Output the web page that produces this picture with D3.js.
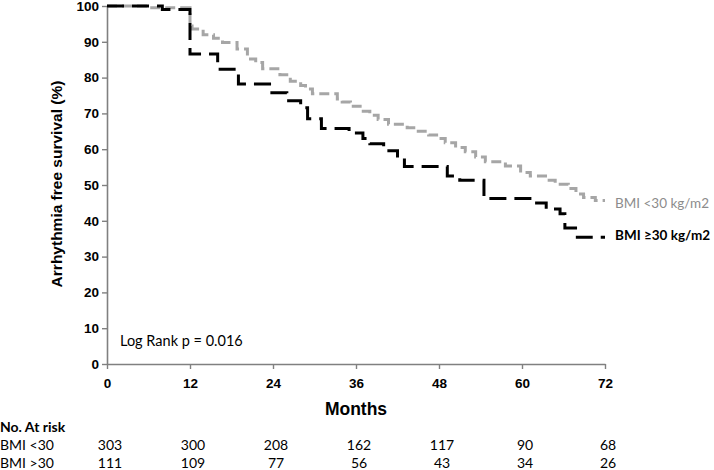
<!DOCTYPE html>
<html>
<head>
<meta charset="utf-8">
<script src="https://cdn.jsdelivr.net/npm/d3@7"></script>
<style>
  html, body { margin: 0; padding: 0; background: #fff; }
  svg { display: block; }
</style>
</head>
<body>
<svg id="chart" width="714" height="470"></svg>
<script>
// ---- data ----
const monthTicks = [0, 12, 24, 36, 48, 60, 72];
const survTicks = [0, 10, 20, 30, 40, 50, 60, 70, 80, 90, 100];
const groupLabels = ["BMI <30", "BMI >30"];
const legendLabels = ["BMI <30 kg/m2", "BMI \u226530 kg/m2"];
const riskLow = [303, 300, 208, 162, 117, 90, 68];
const riskHigh = [111, 109, 77, 56, 43, 34, 26];

// Kaplan-Meier step curves (time in months, survival %)
const timesLow = [0, 6, 12, 12.3, 13.9, 15.4, 16.7, 18.8, 20.3, 21.5, 22.5, 25, 26.5, 28, 28.7, 29.7, 33.3, 34, 35.2, 36.6, 38, 39.2, 40.7, 43.4, 45, 46.5, 47.9, 48.9, 50.4, 51.8, 53.3, 54.7, 57.6, 59.8, 61.2, 63.4, 64.8, 66.7, 67.8, 68.9, 70.6, 72];
const survLow  = [100, 99.5, 94.4, 93.6, 92, 91, 89.8, 88, 85.2, 84.2, 82.5, 80.8, 79, 77.8, 76.8, 75.5, 74, 73.2, 72, 70.6, 69.5, 68.3, 67, 66, 65, 64, 63, 61.8, 60.5, 59.3, 57.8, 56.5, 55.3, 53.5, 52.5, 51.3, 50.2, 49, 47.5, 46.5, 45.7, 45.7];
const timesHigh = [0, 8, 12, 16, 19, 23.5, 26, 28, 29, 31, 35, 37, 38, 40, 42, 43, 49.2, 51, 54.5, 61.5, 63.5, 65.5, 66.2, 68, 72];
const survHigh  = [100, 99, 86.6, 82.3, 78.2, 75.8, 73.5, 71.6, 68.5, 65.8, 64.5, 63, 61.5, 59.6, 57.5, 55.2, 52.5, 51.3, 46.2, 45, 43.3, 42, 38, 35.4, 35.4];

// ---- drawing ----
const svg = d3.select("#chart");
const x = d3.scaleLinear().domain([0, 72]).range([107, 605]);
const y = d3.scaleLinear().domain([0, 100]).range([364, 6]);
const axisColor = "#808080";
const tickFont = "Liberation Sans, Arial, sans-serif";
const bodyFont = "Lato, 'Open Sans', sans-serif";

// Y axis
const yAxis = svg.append("g")
  .attr("transform", `translate(${x(0)},0)`)
  .call(d3.axisLeft(y).tickValues(survTicks).tickSize(5).tickSizeOuter(0).tickPadding(3));
// X axis
const xAxis = svg.append("g")
  .attr("transform", `translate(0,${y(0)})`)
  .call(d3.axisBottom(x).tickValues(monthTicks).tickSize(5).tickSizeOuter(0).tickPadding(9));

[yAxis, xAxis].forEach(g => {
  g.select(".domain").attr("stroke", axisColor).attr("stroke-width", 1.6);
  g.selectAll(".tick line").attr("stroke", axisColor).attr("stroke-width", 1.4);
  g.selectAll(".tick text")
    .attr("fill", "#000")
    .style("font-family", tickFont)
    .style("font-weight", "bold")
    .style("font-size", "13.5px");
});

// Axis titles
svg.append("text")
  .attr("transform", `translate(62,184) rotate(-90)`)
  .attr("text-anchor", "middle")
  .style("font-family", tickFont).style("font-weight", "bold").style("font-size", "15.5px")
  .text("Arrhythmia free survival (%)");

svg.append("text")
  .attr("x", 356).attr("y", 415)
  .attr("text-anchor", "middle")
  .style("font-family", tickFont).style("font-weight", "bold").style("font-size", "17.5px")
  .text("Months");

// Curves
const line = d3.line()
  .x(d => x(d[0]))
  .y(d => y(d[1]))
  .curve(d3.curveStepAfter);

svg.append("path")
  .datum(d3.zip(timesLow, survLow))
  .attr("fill", "none")
  .attr("stroke", "#a6a6a6")
  .attr("stroke-width", 3)
  .attr("stroke-dasharray", "10,5")
  .attr("d", line);

svg.append("path")
  .datum(d3.zip(timesHigh, survHigh))
  .attr("fill", "none")
  .attr("stroke", "#000")
  .attr("stroke-width", 3)
  .attr("stroke-dasharray", "17,8")
  .attr("d", line);

// Legend labels at curve ends
svg.append("text")
  .attr("x", 615).attr("y", 208)
  .attr("fill", "#8c8c8c")
  .style("font-family", bodyFont).style("font-size", "13.5px")
  .text(legendLabels[0]);
svg.append("text")
  .attr("x", 615).attr("y", 240)
  .attr("fill", "#000")
  .style("font-family", bodyFont).style("font-weight", "bold").style("font-size", "13.5px")
  .text(legendLabels[1]);

// Log rank
svg.append("text")
  .attr("x", 120).attr("y", 346)
  .style("font-family", bodyFont).style("font-size", "14.5px")
  .text("Log Rank p = 0.016");

// Number at risk table
svg.append("text")
  .attr("x", 0).attr("y", 432)
  .style("font-family", bodyFont).style("font-weight", "bold").style("font-size", "14px")
  .text("No. At risk");

[riskLow, riskHigh].forEach((row, i) => {
  const yy = 450 + i * 18;
  svg.append("text")
    .attr("x", 0).attr("y", yy)
    .style("font-family", bodyFont).style("font-size", "14px")
    .text(groupLabels[i]);
  svg.selectAll(null)
    .data(row)
    .enter().append("text")
    .attr("x", (d, j) => x(monthTicks[j]) + 3)
    .attr("y", yy)
    .attr("text-anchor", "middle")
    .style("font-family", bodyFont).style("font-size", "14px")
    .text(d => d);
});
</script>
</body>
</html>
